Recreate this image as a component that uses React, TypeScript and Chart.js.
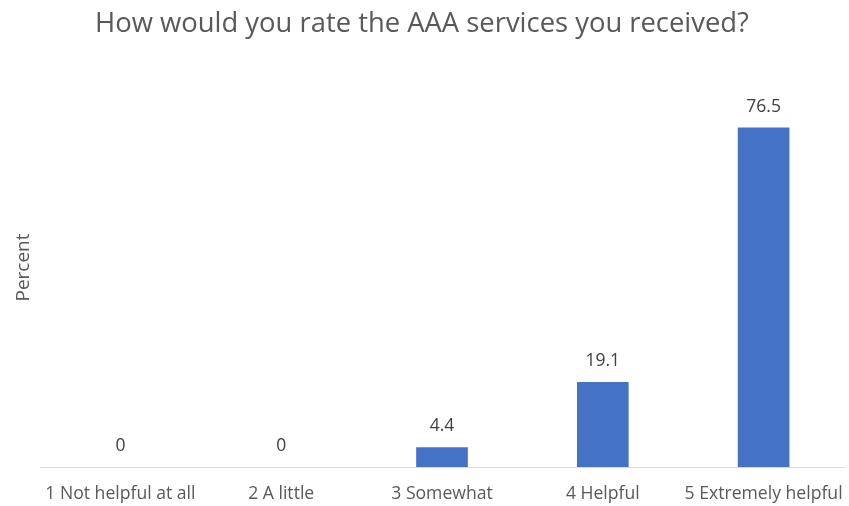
import React, { useEffect, useRef } from "react";
import { Chart, registerables } from "chart.js";

Chart.register(...registerables);

const categories = ["1 Not helpful at all", "2 A little", "3 Somewhat", "4 Helpful", "5 Extremely helpful"];
const percentValues = [0, 0, 4.4, 19.1, 76.5];
const titleText = "How would you rate the AAA services you received?";
const yAxisTitle = "Percent";

const FONT = "'Open Sans', 'Noto Sans', sans-serif";
const BAR_COLOR = "#4472C4";

const dataLabelPlugin = {
  id: "dataLabels",
  afterDatasetsDraw(chart: any) {
    const ctx = chart.ctx;
    const meta = chart.getDatasetMeta(0);
    ctx.save();
    ctx.font = `17.5px ${FONT}`;
    ctx.fillStyle = "#404040";
    ctx.textAlign = "center";
    ctx.textBaseline = "middle";
    meta.data.forEach((el: any, i: number) => {
      const v = chart.data.datasets[0].data[i];
      ctx.fillText(String(v), el.x, el.y - 21);
    });
    ctx.restore();
  },
};

export default function App() {
  const ref = useRef<HTMLCanvasElement | null>(null);
  useEffect(() => {
    document.body.style.margin = "0";
    if (!ref.current) return;
    const chart = new Chart(ref.current, {
      type: "bar",
      data: {
        labels: categories,
        datasets: [
          {
            data: percentValues,
            backgroundColor: (c: any) => (c.raw === 0 ? "rgba(0,0,0,0)" : BAR_COLOR),
            borderWidth: 0,
            barThickness: 51,
          },
        ],
      },
      options: {
        responsive: false,
        animation: false,
        layout: { padding: { left: 0, right: 5, top: 0, bottom: 0 } },
        plugins: {
          legend: { display: false },
          tooltip: { enabled: false },
          title: {
            display: true,
            text: titleText,
            color: "#595959",
            font: { family: FONT, size: 27.4, weight: "normal" },
            padding: { top: 7.5, bottom: 27.6 },
          },
        },
        scales: {
          x: {
            grid: { display: false, drawTicks: false },
            border: { display: true, color: "#d9d9d9", width: 1 },
            ticks: {
              color: "#595959",
              font: { family: FONT, size: 17.6 },
              padding: 16,
              maxRotation: 0,
              autoSkip: false,
            },
            afterFit(scale: any) {
              scale.height = 39;
              scale.paddingLeft = 0;
              scale.paddingRight = 0;
            },
          },
          y: {
            min: 0,
            max: 90,
            grid: { display: false },
            border: { display: false },
            ticks: { display: false },
            title: {
              display: true,
              text: yAxisTitle,
              color: "#595959",
              font: { family: FONT, size: 19 },
              padding: { top: 12, bottom: 0 },
            },
            afterFit(scale: any) {
              scale.width = 40;
            },
          },
        },
      },
      plugins: [dataLabelPlugin],
    });
    return () => chart.destroy();
  }, []);
  return (
    <div style={{ width: 849, height: 506, background: "#fff" }}>
      <canvas ref={ref} width={849} height={506} />
    </div>
  );
}
